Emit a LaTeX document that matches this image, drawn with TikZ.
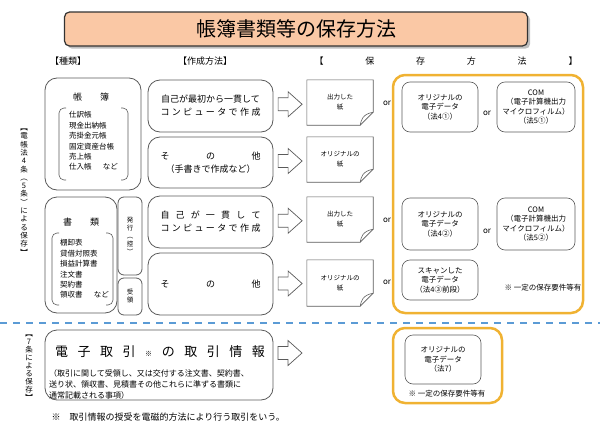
\documentclass[tikz,border=0pt]{standalone}
\usepackage{fontspec}
\setmainfont{Noto Sans CJK JP}
\usetikzlibrary{calc,shadows}
\definecolor{frameorange}{RGB}{240,178,50}
\definecolor{titlefill}{RGB}{250,200,165}
\definecolor{dashblue}{RGB}{91,155,213}
\definecolor{boxline}{RGB}{90,90,90}
\tikzset{
  kind/.style={draw=boxline, rounded corners=12pt, line width=0.8pt, inner sep=0pt},
  method/.style={draw=boxline, rounded corners=12pt, line width=0.8pt, minimum width=125pt, align=center, font=\fontsize{9}{13}\selectfont},
  paper/.style={minimum width=66pt, minimum height=45pt, align=center, font=\fontsize{6.5}{10}\selectfont},
  store/.style={draw=boxline, rounded corners=8pt, line width=0.6pt, minimum width=76pt, minimum height=50pt, align=center, font=\fontsize{7.5}{9.6}\selectfont, inner sep=1pt},
  hollow/.style={draw=boxline, line width=0.7pt, fill=white},
  ortext/.style={font=\fontsize{8}{8}\selectfont},
  frame/.style={draw=frameorange, line width=2.5pt, rounded corners=12pt},
  vlabel/.style={align=center, inner sep=0pt},
  listtext/.style={align=left, font=\fontsize{7.5}{10.4}\selectfont, inner sep=0pt},
}
\begin{document}
\begin{tikzpicture}[x=1pt,y=-1pt]
  \useasboundingbox (0,0) rectangle (600,431);
  % title
  \node[draw=black!80, line width=1.2pt, fill=titlefill, rounded corners=5pt, drop shadow, minimum width=463pt, minimum height=34pt, font=\fontsize{20}{20}\selectfont] (title) at (296,29) {帳簿書類等の保存方法};
  \node[font=\fontsize{9}{9}\selectfont] (h1) at (68,61) {【種類】};
  \node[font=\fontsize{9}{9}\selectfont] (h2) at (205,61) {【作成方法】};
  \node[font=\fontsize{9}{9}\selectfont] (h3) at (446,61) {\makebox[263pt][s]{【\hfill 保\hfill 存\hfill 方\hfill 法\hfill 】}};
  % left labels
  \node[vlabel, font=\fontsize{7.5}{8.3}\selectfont] (lab1) at (24,192) {︻\\電\\帳\\法\\4\\条\\︵\\5\\条\\︶\\に\\よ\\る\\保\\存\\︼};
  \node[vlabel, font=\fontsize{7.5}{8}\selectfont] (lab2) at (29,368) {︻\\7\\条\\に\\よ\\る\\保\\存\\︼};
  % kinds
  \node[kind, minimum width=96pt, minimum height=112pt] (k1) at (93,134) {};
  \node[font=\fontsize{9}{9}\selectfont] (k1t) at (91,97) {帳\hspace{2em}簿};
  \node[listtext, anchor=west] (k1l) at (69,141) {仕訳帳\\現金出納帳\\売掛金元帳\\固定資産台帳\\売上帳\\仕入帳\hspace{1.5em}など};
  \draw[boxline, line width=0.6pt, rounded corners=5pt] (66,108) -- (59,108) -- (59,180) -- (66,180);
  \draw[boxline, line width=0.6pt, rounded corners=5pt] (121,108) -- (128,108) -- (128,180) -- (121,180);
  \node[kind, minimum width=72pt, minimum height=116pt] (k2) at (81,255) {};
  \node[font=\fontsize{9}{9}\selectfont] (k2t) at (81,222) {書\hspace{2em}類};
  \node[listtext, anchor=west] (k2l) at (60,269) {棚卸表\\貸借対照表\\損益計算書\\注文書\\契約書\\領収書\hspace{1.5em}など};
  \draw[boxline, line width=0.6pt, rounded corners=5pt] (59,233) -- (52,233) -- (52,305) -- (59,305);
  \draw[boxline, line width=0.6pt, rounded corners=5pt] (106,233) -- (113,233) -- (113,305) -- (106,305);
  \node[kind, rounded corners=6pt, minimum width=24pt, minimum height=78pt] (k3) at (130,236) {};
  \node[vlabel, font=\fontsize{6.5}{8}\selectfont] (k3t) at (130,236) {発\\行\\︵\\控\\︶};
  \node[kind, rounded corners=6pt, minimum width=24pt, minimum height=37pt] (k4) at (130,296.5) {};
  \node[vlabel, font=\fontsize{6.5}{8}\selectfont] (k4t) at (130,296.5) {受\\領};
  % methods
  \node[method, minimum height=52pt] (m1) at (210.5,106) {自己が最初から一貫して\\\makebox[100pt][s]{コ\hfill ン\hfill ピ\hfill ュ\hfill ー\hfill タ\hfill で\hfill 作\hfill 成}};
  \node[method, minimum height=51pt] (m2) at (210.5,162.5) {\makebox[100pt][s]{そ\hfill の\hfill 他}\\（手書きで作成など）};
  \node[method, minimum height=52pt] (m3) at (210.5,222) {\makebox[100pt][s]{自\hfill 己\hfill が\hfill 一\hfill 貫\hfill し\hfill て}\\\makebox[100pt][s]{コ\hfill ン\hfill ピ\hfill ュ\hfill ー\hfill タ\hfill で\hfill 作\hfill 成}};
  \node[method, minimum height=62pt] (m4) at (210.5,284) {\makebox[100pt][s]{そ\hfill の\hfill 他}};
  % papers
  \node[paper] (p1) at (340,102.5) {出力した\\紙};
  \node[paper] (p2) at (340,159.5) {オリジナルの\\紙};
  \node[paper] (p3) at (340,219.5) {出力した\\紙};
  \node[paper, minimum height=46pt] (p4) at (340,283) {オリジナルの\\紙};
  \foreach \p in {p1,p2,p3,p4} {
    \draw[boxline, line width=0.6pt] (\p.north west) -- (\p.north east) -- ([yshift=13pt]\p.south east) -- ([xshift=-13pt]\p.south east) -- (\p.south west) -- cycle;
    \draw[boxline, line width=0.6pt] ([yshift=13pt]\p.south east) .. controls ([xshift=-11pt,yshift=11pt]\p.south east) and ([xshift=-12pt,yshift=5pt]\p.south east) .. ([xshift=-13pt]\p.south east);
  }
  % arrows
  \foreach \m/\p in {m1/p1,m2/p2,m3/p3,m4/p4} {
    \coordinate (a\m) at ($(\m.east)!0.5!(\p.west)$);
    \draw[hollow] ($(a\m)+(-12,-6.5)$) -- ($(a\m)+(-2,-6.5)$) -- ($(a\m)+(-2,-12.5)$) -- ($(a\m)+(12,0)$) -- ($(a\m)+(-2,12.5)$) -- ($(a\m)+(-2,6.5)$) -- ($(a\m)+(-12,6.5)$) -- cycle;
  }
  % storage
  \node[ortext] (or1) at (387,103) {or};
  \node[ortext] (or3) at (387,220) {or};
  \node[ortext] (or4) at (387,282) {or};
  \draw[frame] (393,75) rectangle (583,313);
  \node[store] (s1) at (440,107) {オリジナルの\\電子データ\\（法4①）};
  \node[ortext] (or1b) at (487,113) {or};
  \node[store, minimum width=78pt] (c1) at (536,107) {COM\\（電子計算機出力\\マイクロフィルム）\\（法5①）};
  \node[store, minimum height=52pt] (s2) at (440,224) {オリジナルの\\電子データ\\（法4②）};
  \node[ortext] (or3b) at (487,231) {or};
  \node[store, minimum width=78pt, minimum height=52pt] (c2) at (536,224) {COM\\（電子計算機出力\\マイクロフィルム）\\（法5②）};
  \node[store, minimum height=40pt] (s3) at (440,280) {スキャンした\\電子データ\\（法4③前段）};
  \node[font=\fontsize{7.5}{7.5}\selectfont] (note1) at (543,288) {※ 一定の保存要件等有};
  % separator
  \draw[dashblue, line width=2pt, dash pattern=on 7pt off 6pt] (0,323) -- (600,323);
  % electronic transactions
  \node[kind, minimum width=228pt, minimum height=70pt] (e) at (159,365) {};
  \node[font=\fontsize{13}{13}\selectfont] (et) at (160,352) {\makebox[210pt][s]{電\hfill 子\hfill 取\hfill 引\hfill {\fontsize{7}{7}\selectfont ※}\hfill の\hfill 取\hfill 引\hfill 情\hfill 報}};
  \node[listtext, font=\fontsize{8}{11}\selectfont, anchor=west] (eb) at (49,384) {（取引に関して受領し、又は交付する注文書、契約書、\\送り状、領収書、見積書その他これらに準ずる書類に\\通常記載される事項）};
  \coordinate (a5) at (290,353);
  \draw[hollow] ($(a5)+(-12,-6.5)$) -- ($(a5)+(-2,-6.5)$) -- ($(a5)+(-2,-12.5)$) -- ($(a5)+(12,0)$) -- ($(a5)+(-2,12.5)$) -- ($(a5)+(-2,6.5)$) -- ($(a5)+(-12,6.5)$) -- cycle;
  \draw[frame] (393,328) rectangle (502,403);
  \node[store, minimum height=49pt] (s7) at (443,359.5) {オリジナルの\\電子データ\\（法7）};
  \node[font=\fontsize{7.5}{7.5}\selectfont] (note2) at (447,394) {※ 一定の保存要件等有};
  \node[font=\fontsize{9}{9}\selectfont, anchor=west] (foot) at (48,417) {※\hspace{1em}取引情報の授受を電磁的方法により行う取引をいう。};
\end{tikzpicture}
\end{document}
